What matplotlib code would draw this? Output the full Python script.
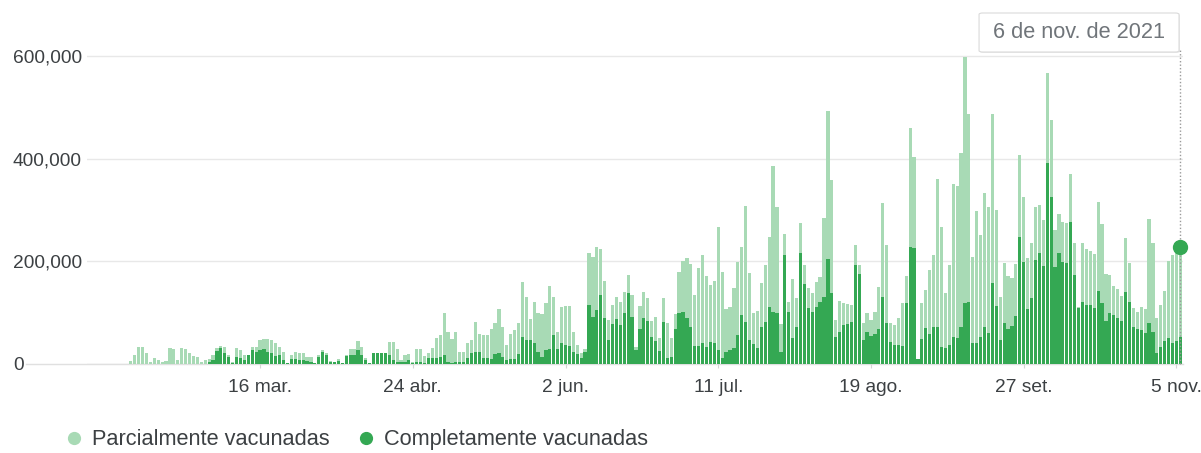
import matplotlib.pyplot as plt
import matplotlib.dates as mdates
from matplotlib.lines import Line2D
from matplotlib.patches import FancyBboxPatch
import numpy as np
import pandas as pd

# daily values in thousands, last day = 6 nov 2021
parcial_k = [
    6.5, 17.5, 34, 34, 21, 4.5, 11, 8, 4.5, 6.5, 30.5, 28.6, 8, 30.5, 28.6, 21, 15.6, 14, 4.5, 8,
    9, 17.5, 30.5, 35, 34, 17.5, 4.5, 30.5, 27, 17.5, 14, 34, 34, 47, 48, 48, 47, 40, 34, 24,
    1, 17.5, 24, 22, 21, 14, 14, 1, 17.5, 27, 21, 6.5, 4.5, 9, 1, 17.5, 30, 30, 45, 34,
    11, 1, 21, 22, 22, 22, 43, 43, 30, 8, 17.5, 19.5, 4.5, 28.6, 28.6, 16, 21, 30.5, 50, 56.5,
    99, 63, 48, 63, 24, 24, 40, 47, 82.5, 58.5, 56.5, 56.5, 67.6, 80.6, 106.6, 73, 37, 58, 66, 79,
    160, 131, 87, 121, 100, 97, 118, 152, 131, 63, 112, 113, 113, 63, 37, 21, 30, 216, 208, 229,
    224, 162.5, 86, 115, 131, 120, 141, 173.5, 134.5, 34, 113, 141, 128, 84.5, 92, 50, 128, 80.6, 50, 98,
    180, 200, 206, 195, 134.5, 186.5, 212.5, 171.6, 154, 162.5, 268, 180, 106.6, 112, 147.5, 199.5, 227.5, 308, 178, 99,
    104, 158.6, 193, 247, 386, 305.5, 78, 253.5, 121.5, 165, 128, 274, 193, 147.5, 138, 160.5, 170, 284, 494, 359,
    86, 123.5, 118, 117, 115, 232, 193, 80.6, 100, 86, 102, 149.5, 314.6, 232, 79, 76, 89, 118, 171.6, 459.5,
    404, 9, 118, 144, 183, 212.5, 360, 268, 139, 193, 351, 347, 411, 599, 487.5, 209, 299, 251.5, 334, 307,
    487.5, 300, 130, 197.6, 171.6, 167, 195, 407.5, 325, 206, 236.6, 307, 310, 281, 568, 476, 261, 292.5, 277.5, 274,
    370, 236.6, 112, 236.6, 223.6, 221, 214.5, 316.5, 273, 175.5, 173.5, 152, 145.6, 132.6, 245, 196, 108.5, 102, 110.5, 106.6,
    282, 236.6, 89, 115, 143, 201.5, 212.5, 216, 229,
]
completa_k = [
    0, 0, 0, 0, 0, 0, 0, 0, 0, 0, 0, 0, 0, 0, 0, 0, 0, 0, 0, 0,
    3, 8, 25, 32, 21, 14, 2, 14, 11, 8, 17, 28, 24, 27, 30, 24, 21, 16, 17.5, 8,
    1, 9, 9, 8, 8, 6.5, 4.5, 1, 14, 24, 17.5, 4.5, 4.5, 6.5, 1, 15.6, 17.5, 17.5, 27, 17.5,
    8, 1, 21, 22, 22, 22, 17.5, 8, 4.5, 4.5, 4.5, 8, 1, 3, 3, 1, 11, 11, 11, 14,
    17.5, 4.5, 1, 4.5, 4.5, 4.5, 11, 22, 24, 24, 11, 11, 9, 19.5, 21, 14, 8, 9, 9, 19.5,
    53, 46, 47, 40, 24, 14, 27, 28.6, 56.5, 30, 41.6, 37, 35, 24, 19.5, 11, 24, 115, 92, 105,
    134.5, 89, 47, 78, 87, 76, 100, 138, 91, 27, 67.6, 89, 84.5, 53, 45.5, 26, 82.5, 11, 14, 68,
    99, 102, 89, 73, 35, 35, 41.6, 34, 43.5, 40, 27, 11, 24, 27, 30.5, 56.5, 95.5, 82.5, 47, 39,
    30.5, 73, 82.5, 110.5, 102, 99, 24, 212.5, 102, 50, 73, 216, 155, 108.5, 102, 112, 121.5, 130, 204, 139,
    52, 63, 76, 78, 82.5, 193, 175.5, 47, 63, 54.6, 58.5, 67.6, 130, 79, 43.5, 37, 37, 35, 118, 229,
    225.5, 9, 48, 69.5, 58.5, 72, 73, 34, 30.5, 37, 53, 50, 73, 118, 121.5, 40, 40, 53, 73, 60,
    157, 113, 47, 80.6, 67.6, 74, 93.6, 248, 199.5, 106.6, 128, 203, 216, 191, 392.6, 326, 190, 217, 199.5, 196,
    277.5, 173.5, 110, 121.5, 115, 115, 108.5, 143, 119.6, 84.5, 100, 95.5, 89, 84.5, 141, 121.5, 71.5, 67.6, 66, 61,
    79, 63, 21, 32.5, 45.5, 50, 40, 45, 52,
]
fecha_fin = "2021-11-06"
tick_fechas = ["2021-03-16", "2021-04-24", "2021-06-02", "2021-07-11",
               "2021-08-19", "2021-09-27", "2021-11-05"]
tick_etiquetas = ["16 mar.", "24 abr.", "2 jun.", "11 jul.", "19 ago.", "27 set.", "5 nov."]
y_ticks = [0, 200000, 400000, 600000]
series = ["Parcialmente vacunadas", "Completamente vacunadas"]
tooltip = "6 de nov. de 2021"

CLARO = '#a8dab5'
OSCURO = '#34a853'

fechas = pd.date_range(end=fecha_fin, periods=len(parcial_k), freq="D")
x = mdates.date2num(fechas)
parcial = np.array(parcial_k) * 1000
completa = np.array(completa_k) * 1000

plt.rcParams['font.family'] = ['Liberation Sans', 'DejaVu Sans']

fig = plt.figure(figsize=(12.01, 4.53), dpi=100)
ax = fig.add_axes([0.0724, 0.1965, 0.9127, 0.702])

ax.bar(x, parcial, width=0.82, color=CLARO, linewidth=0, zorder=2)
ax.bar(x, completa, width=0.82, color=OSCURO, linewidth=0, zorder=3)

ax.set_xlim(x[0] - 11.2, x[-1] + 0.7)
ax.set_ylim(0, 620000)

ax.set_yticks(y_ticks)
ax.set_yticklabels([f"{v:,}" for v in y_ticks])
ax.tick_params(axis='y', length=0, pad=53.3, labelsize=13.8, labelcolor='#3c4043')
for lbl in ax.get_yticklabels():
    lbl.set_horizontalalignment('left')
ax.grid(axis='y', color='#e8e8e8', linewidth=1, zorder=0)
ax.plot([-0.056, 1], [0, 0], transform=ax.get_yaxis_transform(), color='#e0e0e0',
        linewidth=1, clip_on=False, zorder=1)

ax.set_xticks(mdates.date2num(pd.to_datetime(tick_fechas)))
ax.set_xticklabels(tick_etiquetas)
ax.tick_params(axis='x', length=3, color='#d6d6d6', pad=8, labelsize=13.8, labelcolor='#3c4043')

for s in ax.spines.values():
    s.set_visible(False)

# hover marker
ax.plot([x[-1], x[-1]], [0, 0.99], transform=ax.get_xaxis_transform(), color='#9a9a9a',
        linestyle=(0, (1, 1.5)), linewidth=1, clip_on=False, zorder=4)
ax.plot(x[-1], parcial[-1], 'o', ms=10, color=OSCURO, zorder=6, clip_on=False)

shadow = FancyBboxPatch((0.8160, 0.8830), 0.1665, 0.0861, boxstyle="round,pad=0,rounding_size=0.003",
                        transform=fig.transFigure, facecolor='#000000', alpha=0.08, edgecolor='none')
box = FancyBboxPatch((0.8152, 0.8852), 0.1665, 0.0861, boxstyle="round,pad=0,rounding_size=0.003",
                     transform=fig.transFigure, facecolor='white', edgecolor='#dadada', linewidth=0.8)
fig.patches.extend([shadow, box])
fig.text(0.8984, 0.9283, tooltip, ha='center', va='center', fontsize=15.7, color='#70757a')

handles = [Line2D([], [], marker='o', linestyle='', color=CLARO, ms=8.5),
           Line2D([], [], marker='o', linestyle='', color=OSCURO, ms=8.5)]
fig.legend(handles, series, loc='center left', bbox_to_anchor=(0.0541, 0.0287), ncol=2,
           frameon=False, fontsize=15.7, handlelength=0.8, handletextpad=0.45,
           columnspacing=1.24, borderpad=0, borderaxespad=0, labelcolor='#3c4043')

fig.savefig("out.png", dpi=100)
